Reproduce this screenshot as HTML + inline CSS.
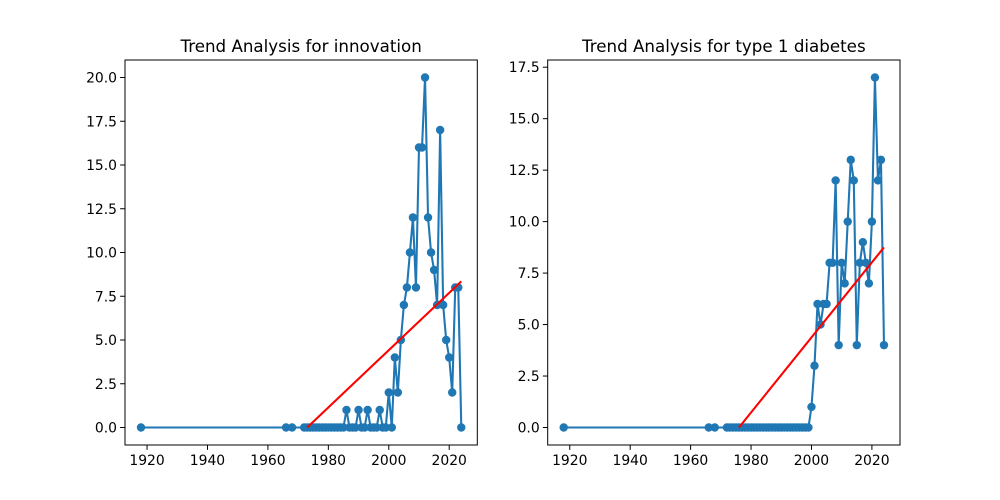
<!DOCTYPE html>
<html><head><meta charset="utf-8"><style>
body{margin:0;background:#fff;}
svg{display:block;font-family:"DejaVu Sans","Liberation Sans",sans-serif;}
</style></head><body>
<svg id="fig" width="1000" height="500" viewBox="0 0 1000 500"></svg>
<script>
const yearsA=[1918,1966,1968,1972,1973,1974,1975,1976,1977,1978,1979,1980,1981,1982,1983,1984,1985,1986,1987,1988,1989,1990,1991,1992,1993,1994,1995,1996,1997,1998,1999,2000,2001,2002,2003,2004,2005,2006,2007,2008,2009,2010,2011,2012,2013,2014,2015,2016,2017,2018,2019,2020,2021,2022,2023,2024];
const valuesA=[0,0,0,0,0,0,0,0,0,0,0,0,0,0,0,0,0,1,0,0,0,1,0,0,1,0,0,0,1,0,0,2,0,4,2,5,7,8,10,12,8,16,16,20,12,10,9,7,17,7,5,4,2,8,8,0];
const trendA=[[1973,0],[2024,8.35]];
const yearsB=[1918,1966,1968,1972,1973,1974,1975,1976,1977,1978,1979,1980,1981,1982,1983,1984,1985,1986,1987,1988,1989,1990,1991,1992,1993,1994,1995,1996,1997,1998,1999,2000,2001,2002,2003,2004,2005,2006,2007,2008,2009,2010,2011,2012,2013,2014,2015,2016,2017,2018,2019,2020,2021,2022,2023,2024];
const valuesB=[0,0,0,0,0,0,0,0,0,0,0,0,0,0,0,0,0,0,0,0,0,0,0,0,0,0,0,0,0,0,0,1,3,6,5,6,6,8,8,12,4,8,7,10,13,12,4,8,9,8,7,10,17,12,13,4];
const trendB=[[1976,0],[2024,8.75]];
const xTicks=[1920,1940,1960,1980,2000,2020];
const yTicksA=[0,2.5,5,7.5,10,12.5,15,17.5,20];
const yTicksB=[0,2.5,5,7.5,10,12.5,15,17.5];
const titles=["Trend Analysis for innovation","Trend Analysis for type 1 diabetes"];

const NS="http://www.w3.org/2000/svg";
const svg=document.getElementById('fig');
function mk(tag,attrs,parent){const e=document.createElementNS(NS,tag);for(const k in attrs)e.setAttribute(k,attrs[k]);(parent||svg).appendChild(e);return e;}

function panel(idx,left,years,vals,trend,yTicks){
  const top=60,bottom=445,w=352.3,right=left+w;
  const g=mk('g',{});
  
  
  const xmin=Math.min(...years),xmax=Math.max(...years),xp=(xmax-xmin)*0.05;
  const x0=xmin-xp,x1=xmax+xp;
  const ymax=Math.max(...vals),yp=ymax*0.05;
  const y0=-yp,y1=ymax+yp;
  const X=v=>left+(v-x0)/(x1-x0)*w;
  const Y=v=>bottom-(v-y0)/(y1-y0)*(bottom-top);
  // series line
  const pts=years.map((yr,i)=>X(yr).toFixed(2)+','+Y(vals[i]).toFixed(2)).join(' ');
  const line=mk('polyline',{points:pts,fill:'none',stroke:'#1f77b4','stroke-width':2.08,'stroke-linejoin':'round'},g);
  
  
  years.forEach((yr,i)=>{
    const c=mk('circle',{cx:X(yr),cy:Y(vals[i]),r:4.2,fill:'#1f77b4'},g);
    
    
  });
  const t=mk('line',{x1:X(trend[0][0]),y1:Y(trend[0][1]),x2:X(trend[1][0]),y2:Y(trend[1][1]),stroke:'#ff0000','stroke-width':2.08},g);
  
  
  const fr=mk('rect',{x:left,y:top,width:w,height:bottom-top,fill:'none',stroke:'#000','stroke-width':1},g);
  
  
  xTicks.forEach(v=>{
    mk('line',{x1:X(v),x2:X(v),y1:bottom,y2:bottom+4.9,stroke:'#000','stroke-width':1},g);
    const tx=mk('text',{x:X(v),y:bottom+20,'font-size':13.9,'text-anchor':'middle',fill:'#000'},g);
    tx.textContent=v;
    
    
  });
  yTicks.forEach(v=>{
    mk('line',{x1:left-4.9,x2:left,y1:Y(v),y2:Y(v),stroke:'#000','stroke-width':1},g);
    const tx=mk('text',{x:left-8,y:Y(v)+5,'font-size':13.9,'text-anchor':'end',fill:'#000'},g);
    tx.textContent=v.toFixed(1);
    
    
  });
  const ti=mk('text',{x:left+w/2,y:top-8,'font-size':16.7,'text-anchor':'middle',fill:'#000'},g);
  ti.textContent=titles[idx];
  
  
}
panel(0,125,yearsA,valuesA,trendA,yTicksA);
panel(1,547.7,yearsB,valuesB,trendB,yTicksB);
</script>
</body></html>
